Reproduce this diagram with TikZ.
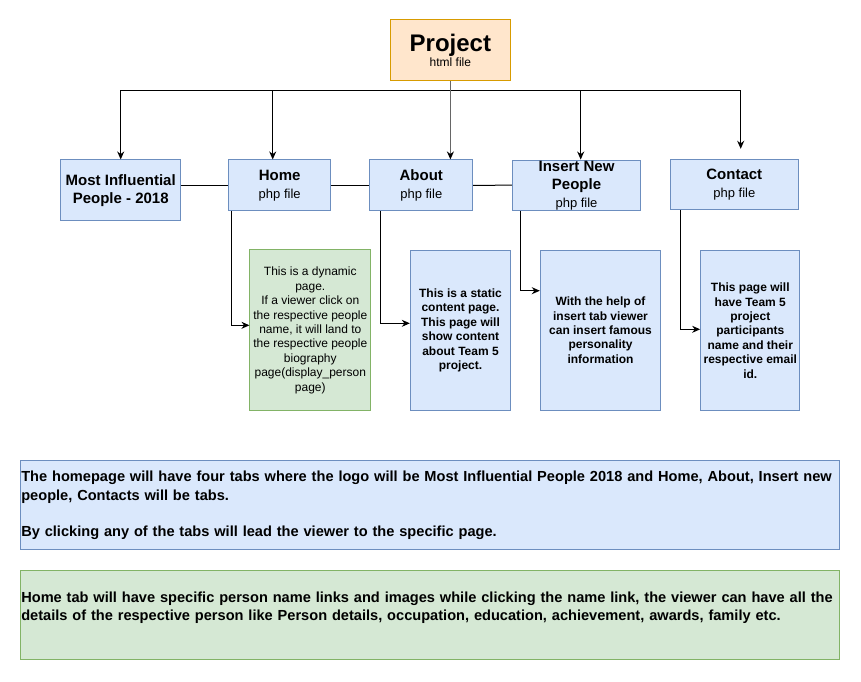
\documentclass[tikz,border=0pt]{standalone}
\usepackage{fontspec}
\setmainfont{Liberation Sans}
\usetikzlibrary{arrows.meta}
\definecolor{tabfill}{HTML}{DAE8FC}
\definecolor{tabline}{HTML}{6C8EBF}
\definecolor{pagefill}{HTML}{D5E8D4}
\definecolor{pageline}{HTML}{82B366}
\definecolor{projfill}{HTML}{FFE6CC}
\definecolor{projline}{HTML}{D79B00}
\newcommand{\pxfont}[2]{\fontsize{#1}{#2}\selectfont}
\tikzset{
  tabbox/.style={draw=tabline,fill=tabfill,inner sep=0pt,align=center,font=\pxfont{15}{18}\bfseries},
  bluepage/.style={draw=tabline,fill=tabfill,inner sep=0pt,align=center,font=\pxfont{12}{14.4}\bfseries},
  greenpage/.style={draw=pageline,fill=pagefill,inner sep=0pt,align=center,font=\pxfont{12}{14.4}},
  notebox/.style={inner ysep=0pt,inner xsep=0.6pt,text width=818,align=left,minimum width=819.3,minimum height=89.3,font=\pxfont{14.6}{18.2}\bfseries}
}
\begin{document}
\begin{tikzpicture}[line width=1pt,>={Stealth[length=8pt,width=7pt]},x=1pt,y=-1pt]
		\useasboundingbox[fill=white] (0,0) rectangle (861,681);
		\node[draw=projline,fill=projfill,inner sep=0pt,align=center,font=\bfseries,minimum width=120.7,minimum height=60.7] (proj) at (450.4,50.3) {{\pxfont{24}{28.8}Project}\\{\pxfont{12}{14.4}\mdseries html file}};
		\node[tabbox,minimum width=120,minimum height=60.7] (most) at (120.7,190.3) {Most Influential\\People - 2018};
		\node[tabbox,minimum width=102,minimum height=50.7] (home) at (279.7,185.3) {Home\\{\pxfont{13}{15.6}\mdseries php file}};
		\node[tabbox,minimum width=102.7,minimum height=50.7] (about) at (421.3,185.3) {About\\{\pxfont{13}{15.6}\mdseries php file}};
		\node[tabbox,minimum width=128.4,minimum height=50.3] (insert) at (576.5,185.2) {Insert New\\People\\{\pxfont{13}{15.6}\mdseries php file}};
		\node[tabbox,minimum width=128,minimum height=50] (contact) at (734.3,184.3) {Contact\\{\pxfont{13}{15.6}\mdseries php file}};
		\node[greenpage,minimum width=120.7,minimum height=160.7] (homepage) at (310.3,330.3) {This is a dynamic\\page.\\If a viewer click on\\the respective people\\name, it will land to\\the respective people\\biography\\page(display\_person\\page)};
		\node[bluepage,minimum width=100.4,minimum height=160] (aboutpage) at (460.5,330.3) {This is a static\\content page.\\This page will\\show content\\about Team 5\\project.};
		\node[bluepage,minimum width=120.4,minimum height=160] (insertpage) at (600.5,330.3) {With the help of\\insert tab viewer\\can insert famous\\personality\\information};
		\node[bluepage,minimum width=99.3,minimum height=160] (contactpage) at (750.3,330.7) {This page will\\have Team 5\\project\\participants\\name and their\\respective email\\id.};
		\node[notebox,draw=tabline,fill=tabfill] (tabsnote) at (430.3,505.3) {The homepage will have four tabs where the logo will be Most Influential People 2018 and Home, About, Insert new\\people, Contacts will be tabs.\\[18pt]By clicking any of the tabs will lead the viewer to the specific page.};
		\node[notebox,draw=pageline,fill=pagefill] (homenote) at (430.3,615.3) {Home tab will have specific person name links and images while clicking the name link, the viewer can have all the\\details of the respective person like Person details, occupation, education, achievement, awards, family etc.\\~};
		\coordinate (bus) at (450.4,90.7);
		\draw[->] (bus) -| (most.north);
		\draw[->] (bus) -| ([xshift=-7]home.north);
		\draw[->] (bus) -| ([xshift=4.2]insert.north);
		\draw[->] (bus) -| ([xshift=6.4,yshift=10]contact.north);
		\draw[-{Stealth[length=8pt,width=7pt,color=black,fill=black]},black!60,line width=1.6pt] (proj.south) -- (proj.south |- about.north);
		\draw (home.west -| most.east) -- (home.west);
		\draw (home.east) -- (about.west);
		\draw (about.east) -- (insert.west);
		\draw[->] ([xshift=3]home.south west) |- ([yshift=5]homepage.west);
		\draw[->] ([xshift=11]about.south west) |- ([yshift=7]aboutpage.west);
		\draw[->] ([xshift=8.4]insert.south west) |- ([yshift=39.6]insertpage.west);
		\draw[->] ([xshift=10.4]contact.south west) |- ([yshift=1.4]contactpage.west);
		\end{tikzpicture}
\end{document}
